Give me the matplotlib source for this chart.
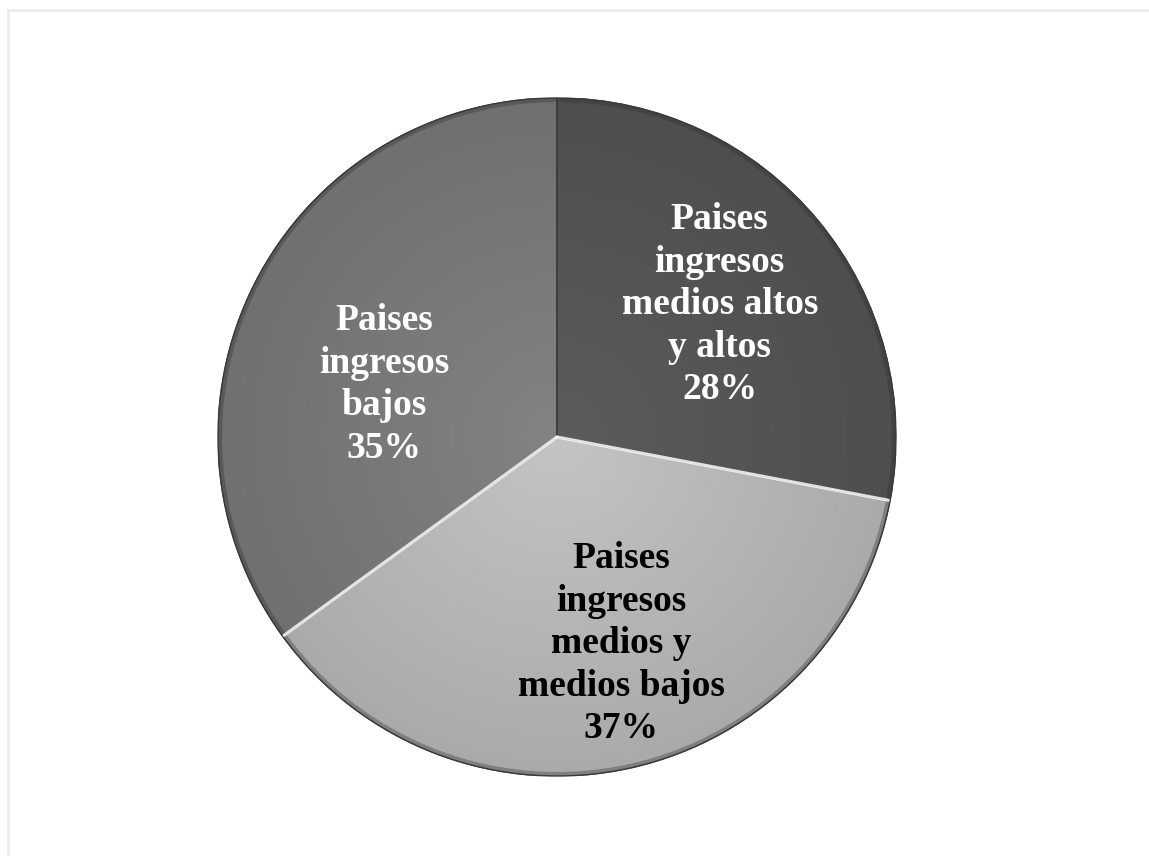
import numpy as np
import matplotlib.pyplot as plt
from matplotlib.patches import Wedge
from matplotlib.colors import LinearSegmentedColormap

# Share of countries by income group
categories = ["Paises\ningresos\nmedios altos\ny altos",
              "Paises\ningresos\nmedios y\nmedios bajos",
              "Paises\ningresos\nbajos"]
shares = [28, 37, 35]
colors = ["#575757", "#b9b9b9", "#7a7a7a"]
shade_lo = ["#4e4e4e", "#aaaaaa", "#707070"]
shade_hi = ["#5c5c5c", "#c4c4c4", "#838383"]
text_colors = ["white", "black", "white"]

W, H = 1149, 856
fig = plt.figure(figsize=(W / 100, H / 100), dpi=100)
fig.patch.set_facecolor("white")

# thin outer frame
fig.add_artist(plt.Line2D([8 / W, 8 / W], [0, 1 - 10 / H], color="#ececec", lw=2,
                          transform=fig.transFigure))
fig.add_artist(plt.Line2D([8 / W, 1], [1 - 10 / H, 1 - 10 / H], color="#ececec", lw=2,
                          transform=fig.transFigure))

cx, cy, r = 557 / W, 1 - 437 / H, 339
ax = fig.add_axes([cx - r / W, cy - r / H, 2 * r / W, 2 * r / H])
ax.axis("off")

wedges, _ = ax.pie(shares, colors=colors, startangle=90, counterclock=False,
                   radius=1.0, wedgeprops=dict(edgecolor="#3c3c3c", linewidth=1.0))
ax.set_xlim(-1, 1)
ax.set_ylim(-1, 1)
ax.set_aspect("equal")

# soft gradient fill clipped to each slice
yy, xx = np.mgrid[-1:1:400j, -1:1:400j]
rr = np.sqrt(xx ** 2 + yy ** 2)
for w, lo, hi in zip(wedges, shade_lo, shade_hi):
    cmap = LinearSegmentedColormap.from_list("g", [lo, hi])
    im = ax.imshow(1 - rr, extent=(-1, 1, -1, 1), origin="lower", cmap=cmap,
                   vmin=0, vmax=1, zorder=1.5, interpolation="bilinear")
    im.set_clip_path(w)

# rim shading and slice borders drawn on top
for w in wedges:
    ax.add_patch(Wedge((0, 0), 1.0, w.theta1, w.theta2, width=0.012,
                       facecolor="#303030", alpha=0.35, edgecolor="none", zorder=2))
    ax.add_patch(Wedge((0, 0), 1.0, w.theta1, w.theta2, facecolor="none",
                       edgecolor="#3a3a3a", linewidth=1.0, zorder=2.1))

# highlight along the edges of the light slice
lw_ = wedges[1]
for ang in (lw_.theta1, lw_.theta2):
    a = np.deg2rad(ang)
    ax.plot([0, 0.995 * np.cos(a)], [0, 0.995 * np.sin(a)], color="white",
            lw=2.2, alpha=0.85, zorder=2.2, solid_capstyle="round")

label_pos = [(0.48, 0.39), (0.19, -0.61), (-0.51, 0.155)]
for (x, y), cat, s, tc in zip(label_pos, categories, shares, text_colors):
    ax.text(x, y, f"{cat}\n{s}%", ha="center", va="center", color=tc,
            fontsize=27, fontweight="bold", family="Liberation Serif",
            linespacing=1.28, zorder=3)

fig.savefig("out.png", dpi=100, facecolor="white")
